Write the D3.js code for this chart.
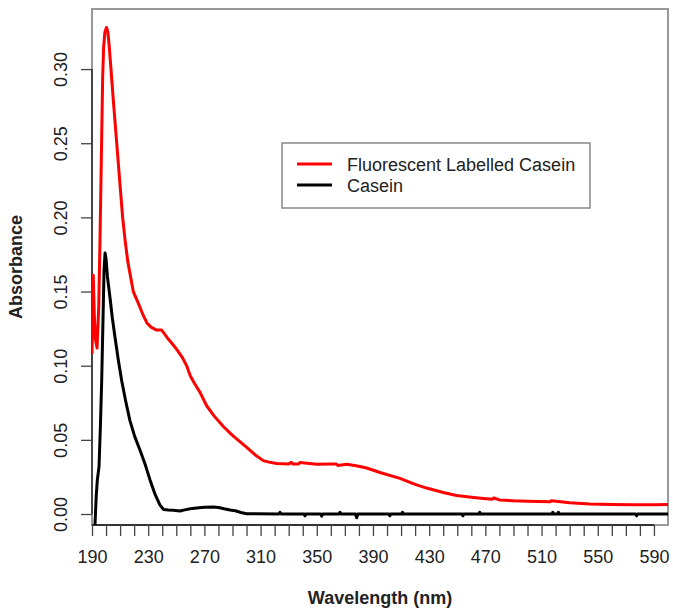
<!DOCTYPE html>
<html>
<head>
<meta charset="utf-8">
<script src="https://cdn.jsdelivr.net/npm/d3@7"></script>
<style>
  html, body { margin: 0; padding: 0; background: #fff; }
  svg { display: block; }
  text { font-family: "Liberation Sans", Arial, sans-serif; fill: #222; }
</style>
</head>
<body>
<svg id="chart" width="673" height="612"></svg>
<script>
// Fluorescent labelled casein spectrum (wavelength nm, absorbance)
const labelledWl = [190.0, 190.9, 191.6, 192.4, 193.6, 194.8, 195.6, 196.3, 196.9, 197.6,
  198.3, 199.2, 200.3, 201.3, 202.3, 203.5, 205.5, 207.6, 209.7, 211.8,
  213.5, 215.5, 219.4, 223.0, 226.0, 229.0, 232.0, 236.0, 239.6, 242.0,
  244.3, 247.0, 250.3, 254.0, 257.4, 260.0, 263.0, 266.9, 271.6, 277.0,
  283.5, 290.0, 300.1, 306.0, 311.9, 316.0, 321.5, 330.0, 332.0, 333.0,
  337.0, 338.0, 350.0, 360.0, 364.0, 365.0, 371.3, 378.0, 385.5, 395.0,
  409.2, 420.0, 428.2, 440.0, 449.6, 460.0, 468.5, 475.0, 476.0, 480.0,
  489.9, 500.0, 516.0, 517.0, 530.0, 544.5, 560.0, 575.0, 590.0, 600.0];
const labelledAbs = [0.108, 0.161, 0.135, 0.118, 0.112, 0.140, 0.180, 0.220, 0.255, 0.295,
  0.315, 0.325, 0.328, 0.325, 0.315, 0.300, 0.275, 0.250, 0.225, 0.200,
  0.185, 0.170, 0.150, 0.142, 0.135, 0.129, 0.126, 0.124, 0.124, 0.121,
  0.118, 0.115, 0.111, 0.106, 0.100, 0.093, 0.088, 0.082, 0.073, 0.066,
  0.059, 0.053, 0.045, 0.040, 0.036, 0.035, 0.034, 0.0338, 0.0348, 0.0338,
  0.0337, 0.0347, 0.0336, 0.0337, 0.0337, 0.0327, 0.0335, 0.0325, 0.031, 0.028,
  0.024, 0.020, 0.0175, 0.0145, 0.0125, 0.0113, 0.0105, 0.0100, 0.0108, 0.0095,
  0.0089, 0.0086, 0.0083, 0.0090, 0.0076, 0.0068, 0.0065, 0.0063, 0.0062, 0.0065];

// Casein spectrum (wavelength nm, absorbance)
const caseinWl = [191.5, 192.0, 193.0, 193.8, 195.0, 196.0, 196.9, 197.8, 198.6, 199.3,
  200.0, 201.0, 202.8, 204.5, 206.4, 208.7, 211.1, 214.0, 217.0, 220.5,
  224.2, 228.0, 231.3, 235.0, 238.4, 241.0, 244.3, 248.0, 252.6, 256.0,
  260.0, 264.5, 270.0, 276.3, 280.0, 284.0, 288.2, 292.0, 296.0, 300.1,
  323.0, 323.8, 324.6, 341.0, 341.6, 342.2, 352.8, 353.5, 354.2, 365.8,
  366.5, 367.2, 377.6, 378.4, 379.2, 401.4, 402.0, 402.6, 410.4, 411.0,
  411.6, 453.4, 454.0, 454.6, 465.4, 466.0, 466.6, 517.4, 518.0, 518.6,
  521.4, 522.0, 522.6, 577.0, 577.7, 578.4, 600.0];
const caseinAbs = [-0.030, -0.010, 0.012, 0.023, 0.032, 0.060, 0.090, 0.130, 0.165, 0.176,
  0.172, 0.160, 0.146, 0.132, 0.119, 0.104, 0.090, 0.076, 0.063, 0.052,
  0.043, 0.033, 0.023, 0.013, 0.006, 0.003, 0.0027, 0.0025, 0.002, 0.0028,
  0.0035, 0.004, 0.0045, 0.0047, 0.0044, 0.0035, 0.0027, 0.0022, 0.001, 0.0002,
  0.0, 0.0012, 0.0, 0.0, -0.0012, 0.0, 0.0, -0.0014, 0.0, 0.0,
  0.0012, 0.0, 0.0, -0.0025, 0.0, 0.0, -0.0012, 0.0, 0.0, 0.0012,
  0.0, 0.0, -0.0012, 0.0, 0.0, 0.0012, 0.0, 0.0, 0.0012, 0.0,
  0.0, 0.0012, 0.0, 0.0, -0.0012, 0.0, 0.0];

const xTicks = d3.range(190, 591, 10);
const xTickLabels = ["190", "230", "270", "310", "350", "390", "430", "470", "510", "550", "590"];
const yTicks = [0.00, 0.05, 0.10, 0.15, 0.20, 0.25, 0.30];
const yTickLabels = ["0.00", "0.05", "0.10", "0.15", "0.20", "0.25", "0.30"];

const seriesNames = ["Fluorescent Labelled Casein", "Casein"];
const seriesColors = ["#ff0000", "#000000"];

const plot = { left: 92, right: 668, top: 9, bottom: 525 };

const x = d3.scaleLinear().domain([190, 600]).range([plot.left, plot.right]);
const y = d3.scaleLinear().domain([-0.0074, 0.3405]).range([plot.bottom, plot.top]);

const svg = d3.select("#chart");

svg.append("defs").append("clipPath").attr("id", "plotClip")
  .append("rect")
  .attr("x", plot.left).attr("y", plot.top)
  .attr("width", plot.right - plot.left).attr("height", plot.bottom - plot.top);

// Plot frame
svg.append("rect")
  .attr("x", plot.left).attr("y", plot.top)
  .attr("width", plot.right - plot.left).attr("height", plot.bottom - plot.top)
  .attr("fill", "none").attr("stroke", "#999").attr("stroke-width", 2);

// Bottom axis: ticks every 10 nm, labels every 40 nm
const xAxis = d3.axisBottom(x)
  .tickValues(xTicks)
  .tickSize(11)
  .tickPadding(6)
  .tickFormat(d => xTickLabels.includes(String(d)) ? String(d) : "");

const gx = svg.append("g").attr("transform", `translate(0,${plot.bottom})`).call(xAxis);
gx.select(".domain").attr("d", `M${x(190)},0H${x(590)}`).attr("stroke", "#333").attr("stroke-width", 2);
gx.selectAll(".tick line").attr("stroke", "#444").attr("stroke-width", 1.3);
gx.selectAll(".tick text")
  .attr("font-family", "Liberation Sans, Arial, sans-serif")
  .attr("font-size", 18).attr("fill", "#222")
  .attr("y", 38).attr("dy", null);

// Left axis with rotated labels
const yAxis = d3.axisLeft(y)
  .tickValues(yTicks)
  .tickSize(11)
  .tickFormat((d, i) => yTickLabels[i]);

const gy = svg.append("g").attr("transform", `translate(${plot.left},0)`).call(yAxis);
gy.select(".domain").attr("d", `M0,${y(0)}V${y(0.30)}`).attr("stroke", "#444").attr("stroke-width", 2);
gy.selectAll(".tick line").attr("stroke", "#444").attr("stroke-width", 1.3);
gy.selectAll(".tick text")
  .attr("font-family", "Liberation Sans, Arial, sans-serif")
  .attr("font-size", 18).attr("fill", "#222")
  .attr("x", null).attr("dy", null)
  .attr("text-anchor", "middle")
  .attr("transform", "translate(-25,0) rotate(-90)");

// Spectra
const line = d3.line().x(d => x(d[0])).y(d => y(d[1]));
const labelled = labelledWl.map((w, i) => [w, labelledAbs[i]]);
const casein = caseinWl.map((w, i) => [w, caseinAbs[i]]);

const lines = svg.append("g").attr("clip-path", "url(#plotClip)");
lines.append("path").datum(labelled)
  .attr("d", line).attr("fill", "none")
  .attr("stroke", seriesColors[0]).attr("stroke-width", 3).attr("stroke-linejoin", "round");
lines.append("path").datum(casein)
  .attr("d", line).attr("fill", "none")
  .attr("stroke", seriesColors[1]).attr("stroke-width", 3).attr("stroke-linejoin", "round");

// Axis titles
svg.append("text")
  .attr("x", (plot.left + plot.right) / 2).attr("y", 604)
  .attr("text-anchor", "middle").attr("font-size", 18).attr("font-weight", "bold")
  .attr("fill", "#111")
  .text("Wavelength (nm)");

svg.append("text")
  .attr("transform", `translate(22,${(plot.top + plot.bottom) / 2}) rotate(-90)`)
  .attr("text-anchor", "middle").attr("font-size", 18).attr("font-weight", "bold")
  .attr("fill", "#111")
  .text("Absorbance");

// Legend
const legend = svg.append("g");
legend.append("rect")
  .attr("x", 282).attr("y", 143).attr("width", 308).attr("height", 65)
  .attr("fill", "#fff").attr("stroke", "#888").attr("stroke-width", 1.5);
seriesNames.forEach((name, i) => {
  const cy = 164 + i * 21;
  legend.append("line")
    .attr("x1", 297).attr("x2", 332).attr("y1", cy).attr("y2", cy)
    .attr("stroke", seriesColors[i]).attr("stroke-width", 3);
  legend.append("text")
    .attr("x", 347).attr("y", cy + 7)
    .attr("font-size", 18).attr("fill", "#222")
    .text(name);
});
</script>
</body>
</html>
